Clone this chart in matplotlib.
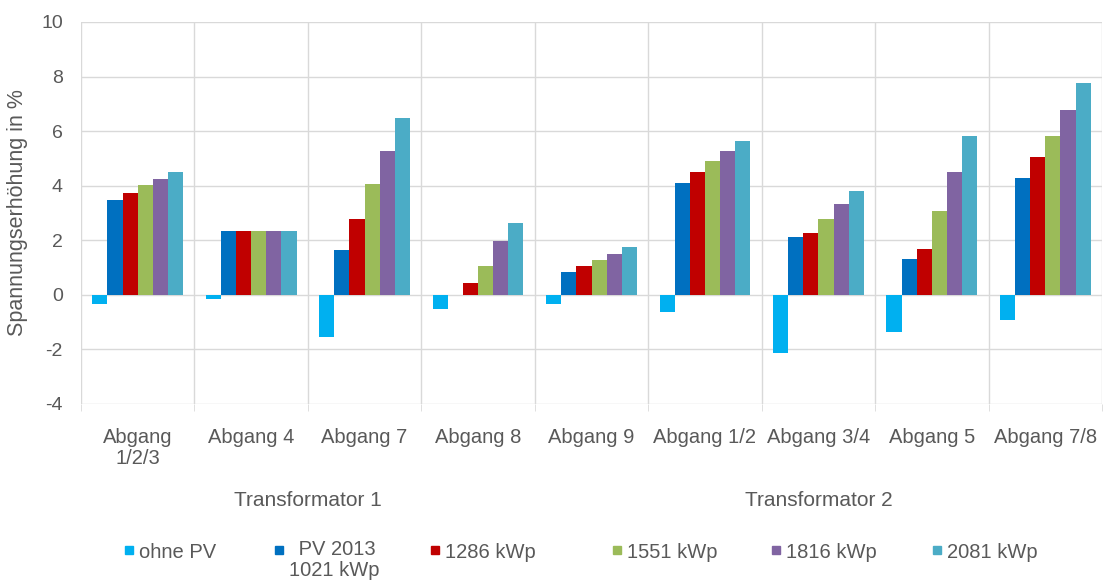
import matplotlib.pyplot as plt
from matplotlib.patches import Rectangle
import numpy as np

plt.rcParams['font.family'] = ['Liberation Sans', 'DejaVu Sans']
plt.rcParams['axes.unicode_minus'] = False

# data
kategorien = ['Abgang\n1/2/3', 'Abgang 4', 'Abgang 7', 'Abgang 8', 'Abgang 9',
              'Abgang 1/2', 'Abgang 3/4', 'Abgang 5', 'Abgang 7/8']
serien = ['ohne PV', ' PV 2013\n1021 kWp', '1286 kWp', '1551 kWp', '1816 kWp', '2081 kWp']
ohne_pv = [-0.33, -0.16, -1.53, -0.51, -0.33, -0.61, -2.14, -1.36, -0.92]
pv_2013 = [3.48, 2.35, 1.64, 0.0, 0.84, 4.11, 2.13, 1.33, 4.28]
kwp_1286 = [3.75, 2.35, 2.78, 0.45, 1.06, 4.50, 2.25, 1.69, 5.04]
kwp_1551 = [4.01, 2.35, 4.07, 1.06, 1.28, 4.90, 2.79, 3.06, 5.83]
kwp_1816 = [4.24, 2.35, 5.26, 1.96, 1.50, 5.26, 3.33, 4.50, 6.76]
kwp_2081 = [4.50, 2.35, 6.49, 2.65, 1.77, 5.65, 3.80, 5.83, 7.76]
werte = [ohne_pv, pv_2013, kwp_1286, kwp_1551, kwp_1816, kwp_2081]
farben = ['#00B0F0', '#0070C0', '#C00000', '#9BBB59', '#8064A2', '#4BACC6']
transformatoren = ['Transformator 1', 'Transformator 2']
trafo_gruppen = [(0, 3), (4, 8)]  # first and last category of each group

textfarbe = '#595959'
gridfarbe = '#D9D9D9'

W, H = 1105, 587
fig = plt.figure(figsize=(W / 100, H / 100), dpi=100)
ax = fig.add_axes([81 / W, 1 - 404 / H, (1102 - 81) / W, (404 - 22) / H])

x = np.arange(len(kategorien))
w = 0.8 / len(serien)
for i, (vals, c) in enumerate(zip(werte, farben)):
    ax.bar(x + (i - 2.5) * w, vals, width=w, color=c, zorder=3)

ax.set_xlim(-0.5, len(kategorien) - 0.5)
ax.set_ylim(-4, 10)
ax.set_yticks(np.arange(-4, 11, 2))
ax.set_xticks(x)
ax.set_xticklabels(kategorien, fontsize=14.5, color=textfarbe, linespacing=1.15)
ax.set_xticks(np.arange(-0.5, len(kategorien)), minor=True)
ax.tick_params(axis='x', which='major', length=0, pad=17)
ax.tick_params(axis='x', which='minor', length=5, color=gridfarbe)
ax.tick_params(axis='y', length=0, pad=13, labelsize=14, labelcolor=textfarbe)
ax.grid(axis='y', which='major', color=gridfarbe, lw=1, zorder=0)
ax.grid(axis='x', which='minor', color=gridfarbe, lw=1, zorder=0)
for s in ax.spines.values():
    s.set_visible(False)

ax.set_ylabel('Spannungserhöhung in %', fontsize=15.5, color=textfarbe)
ax.yaxis.set_label_coords(-0.052, 0.5)

# second level of the category axis
for name, (a, b) in zip(transformatoren, trafo_gruppen):
    ax.text((a + b) / 2, -0.253, name, transform=ax.get_xaxis_transform(),
            ha='center', va='center', fontsize=15, color=textfarbe)

# legend
leg_x = [125, 275, 431, 613, 772, 933]
for lab, c, lx in zip(serien, farben, leg_x):
    fig.add_artist(Rectangle((lx / W, 1 - 554 / H), 8 / W, 8 / H,
                             transform=fig.transFigure, color=c))
    if '\n' in lab:
        fig.text((lx + 14) / W, 1 - 540 / H, lab, ha='left', va='top',
                 fontsize=14.5, color=textfarbe, linespacing=1.15,
                 multialignment='center')
    else:
        fig.text((lx + 14) / W, 1 - 550 / H, lab, ha='left', va='center_baseline',
                 fontsize=14.5, color=textfarbe)

fig.savefig('out.png', dpi=100)
